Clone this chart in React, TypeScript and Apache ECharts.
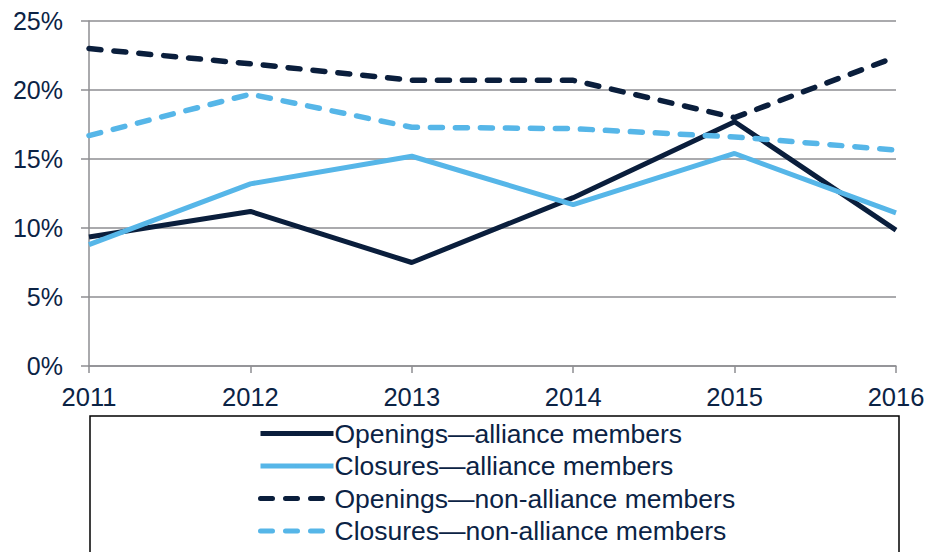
import React, { useEffect, useRef } from "react";
import * as echarts from "echarts";

const years = ["2011", "2012", "2013", "2014", "2015", "2016"];
const openingsAlliance = [9.35, 11.2, 7.5, 12.2, 17.7, 9.85];
const closuresAlliance = [8.8, 13.2, 15.2, 11.7, 15.4, 11.1];
const openingsNonAlliance = [23.0, 21.9, 20.7, 20.7, 18.0, 22.4];
const closuresNonAlliance = [16.7, 19.7, 17.3, 17.2, 16.6, 15.65];

const DARK = "#0a1e3c";
const LIGHT = "#56b6e8";
const TEXT = "#0b2345";
const GRID = "#8e8e92";
const FONT = "'Liberation Sans', Arial, sans-serif";

export default function App() {
  const ref = useRef<HTMLDivElement>(null);
  useEffect(() => {
    if (!ref.current) return;
    const chart = echarts.init(ref.current, undefined, { renderer: "svg" });
    const mk = (name: string, data: number[], color: string, dashed: boolean) => ({
      name,
      type: "line",
      data,
      symbol: "none",
      smooth: false,
      lineStyle: {
        color,
        width: dashed ? 5.5 : 5,
        type: dashed ? [12, 13] : "solid",
        cap: dashed ? "round" : "butt",
      },
      itemStyle: { color },
    });
    chart.setOption({
      animation: false,
      textStyle: { fontFamily: FONT },
      grid: { left: 89, right: 35, top: 21, bottom: 186, containLabel: false },
      xAxis: {
        type: "category",
        data: years,
        boundaryGap: false,
        axisLine: { show: true, lineStyle: { color: GRID, width: 1.5 } },
        axisTick: { show: true, length: 7, lineStyle: { color: GRID, width: 1.5 } },
        axisLabel: { fontSize: 25.5, color: TEXT, margin: 18, fontFamily: FONT },
        splitLine: { show: false },
      },
      yAxis: {
        type: "value",
        min: 0,
        max: 25,
        interval: 5,
        axisLine: { show: true, lineStyle: { color: GRID, width: 1.5 } },
        axisTick: { show: true, length: 8, lineStyle: { color: GRID, width: 1.5 } },
        axisLabel: { fontSize: 25, color: TEXT, margin: 26, formatter: "{value}%", fontFamily: FONT },
        splitLine: { show: true, lineStyle: { color: GRID, width: 1.5 } },
      },
      legend: {
        orient: "vertical",
        left: 258,
        top: 420,
        itemWidth: 73,
        itemHeight: 5,
        itemGap: 5.5,
        textStyle: { fontSize: 26.5, color: TEXT, fontFamily: FONT, padding: [0, 0, 0, -4] },
        lineStyle: { width: 5 },
        padding: 0,
      },
      graphic: [
        {
          type: "rect",
          shape: { x: 90, y: 416, width: 809, height: 160 },
          style: { fill: "none", stroke: "#000", lineWidth: 1.5 },
          silent: true,
        },
      ],
      series: [
        mk("Openings—alliance members", openingsAlliance, DARK, false),
        mk("Closures—alliance members", closuresAlliance, LIGHT, false),
        mk("Openings—non-alliance members", openingsNonAlliance, DARK, true),
        mk("Closures—non-alliance members", closuresNonAlliance, LIGHT, true),
      ],
    });
    return () => chart.dispose();
  }, []);
  return <div ref={ref} style={{ width: 931, height: 552, position: "absolute", left: 0, top: 0, background: "#fff" }} />;
}
